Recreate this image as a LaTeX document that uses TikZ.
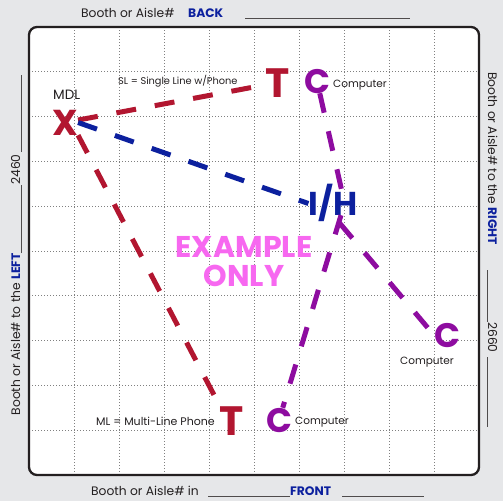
\documentclass[tikz,border=0pt]{standalone}
\usepackage{fontspec}
\setmainfont{Poppins}
\usepackage{tikz}

\definecolor{boothred}{RGB}{178,22,48}
\definecolor{boothblue}{RGB}{12,32,158}
\definecolor{boothpurple}{RGB}{142,12,160}
\definecolor{boothpink}{RGB}{247,104,240}
\definecolor{boothbg}{RGB}{230,231,233}
\definecolor{boothink}{RGB}{35,31,32}

\tikzset{
	item/.style={inner sep=0pt, text depth=0pt, anchor=base},
	note/.style={inner sep=0pt, anchor=base west, text=boothink, font=\fontsize{10.5}{12}\selectfont},
	edge label/.style={inner sep=0pt, anchor=base west, text=boothink, font=\fontsize{12.3}{14}\selectfont},
	blank/.style={boothink!80, line width=0.8pt},
	link/.style={line width=5pt, dash pattern=on 20pt off 19pt},
	gridline/.style={gray, line width=0.7pt, dash pattern=on 1pt off 2pt}
}

\begin{document}
\begin{tikzpicture}[x=1pt, y=-1pt]

	\fill[boothbg] (0,0) rectangle (503,501);
	\useasboundingbox (0,0) rectangle (503,501);

	% the floor plan grid
	\fill[white, rounded corners=8pt] (29,27) rectangle (479,475);
	\foreach \i in {1,...,9} {
		\draw[gridline] (29+45*\i,27) -- ++(0,448);
		\draw[gridline] (29,27+44.8*\i) -- ++(450,0);
	}
	\draw[boothink, line width=2.3pt, rounded corners=8pt] (29,27) rectangle (479,475);

	% labels round the edge
	\node[edge label] (back) at (81,17) {Booth or Aisle\#};
	\node[edge label, text=boothblue, font=\bfseries\fontsize{12.3}{14}\selectfont] (backname) at (188,17) {BACK};
	\draw[blank] (245,18.5) -- (410,18.5);

	\node[edge label] (front) at (91,495) {Booth or Aisle\# in};
	\node[edge label, text=boothblue, font=\bfseries\fontsize{12.3}{14}\selectfont] (frontname) at (290,495) {FRONT};
	\draw[blank] (208,496) -- (290,496);
	\draw[blank] (342,496) -- (424,496);

	\node[edge label, rotate=90, anchor=base east] (left) at (20,253) {Booth or Aisle\# to the \textcolor{boothblue}{\bfseries LEFT}};
	\node[edge label, rotate=90] (leftnum) at (20,185) {2460};
	\draw[blank] (21,253) -- (21,185);
	\draw[blank] (21,152) -- (21,75);

	\node[edge label, rotate=-90] (right) at (488,72) {Booth or Aisle\# to the \textcolor{boothblue}{\bfseries RIGHT}};
	\node[edge label, rotate=-90] (rightnum) at (488,322) {2660};
	\draw[blank] (487,270) -- (487,322);
	\draw[blank] (487,357) -- (487,427);

	% equipment
	\node[item, text=boothred, font=\bfseries\fontsize{36}{36}\selectfont, text height=25pt] (mdl) at (65,135) {X};
	\node[item, text=boothred, font=\bfseries\fontsize{41}{41}\selectfont, text height=29pt] (phoneSL) at (278,97) {T};
	\node[item, text=boothred, font=\bfseries\fontsize{41}{41}\selectfont, text height=29pt] (phoneML) at (232,435) {T};
	\node[item, text=boothpurple, font=\bfseries\fontsize{34}{34}\selectfont, text height=24pt] (compA) at (317,93) {C};
	\node[item, text=boothpurple, font=\bfseries\fontsize{34}{34}\selectfont, text height=24pt] (compB) at (447,347) {C};
	\node[item, text=boothpurple, font=\bfseries\fontsize{34}{34}\selectfont, text height=24pt] (compC) at (279,432) {C};
	\node[item, text=boothblue, font=\bfseries\fontsize{33}{33}\selectfont, text height=23pt] (ih) at (333,215) {I/H};

	\node[note, font=\fontsize{13.5}{15}\selectfont] at (53,99) {MDL};
	\node[note, font=\fontsize{9.8}{12}\selectfont] at (118,84) {SL = Single Line w/Phone};
	\node[note, font=\fontsize{11}{12}\selectfont] at (96,425) {ML = Multi-Line Phone};
	\node[note] at (333,87) {Computer};
	\node[note] at (400,364) {Computer};
	\node[note] at (295,424) {Computer};

	\node[text=boothpink, font=\bfseries\fontsize{30}{29}\selectfont, align=center, inner sep=0pt] (example) at (244,262) {EXAMPLE\\ONLY};

	% cable runs
	\draw[link, boothred] (mdl) -- (phoneSL);
	\draw[link, boothred] (mdl.south east) -- (phoneML.north west);
	\draw[link, boothblue] (mdl.east) -- (ih.west);
	\draw[link, boothpurple] (compA) -- ([xshift=9pt]ih.north);
	\draw[link, boothpurple] ([xshift=8pt]ih.south) -- (compC);
	\draw[link, boothpurple, shorten <=10pt] (ih.south) -- (compB.west);

\end{tikzpicture}
\end{document}
